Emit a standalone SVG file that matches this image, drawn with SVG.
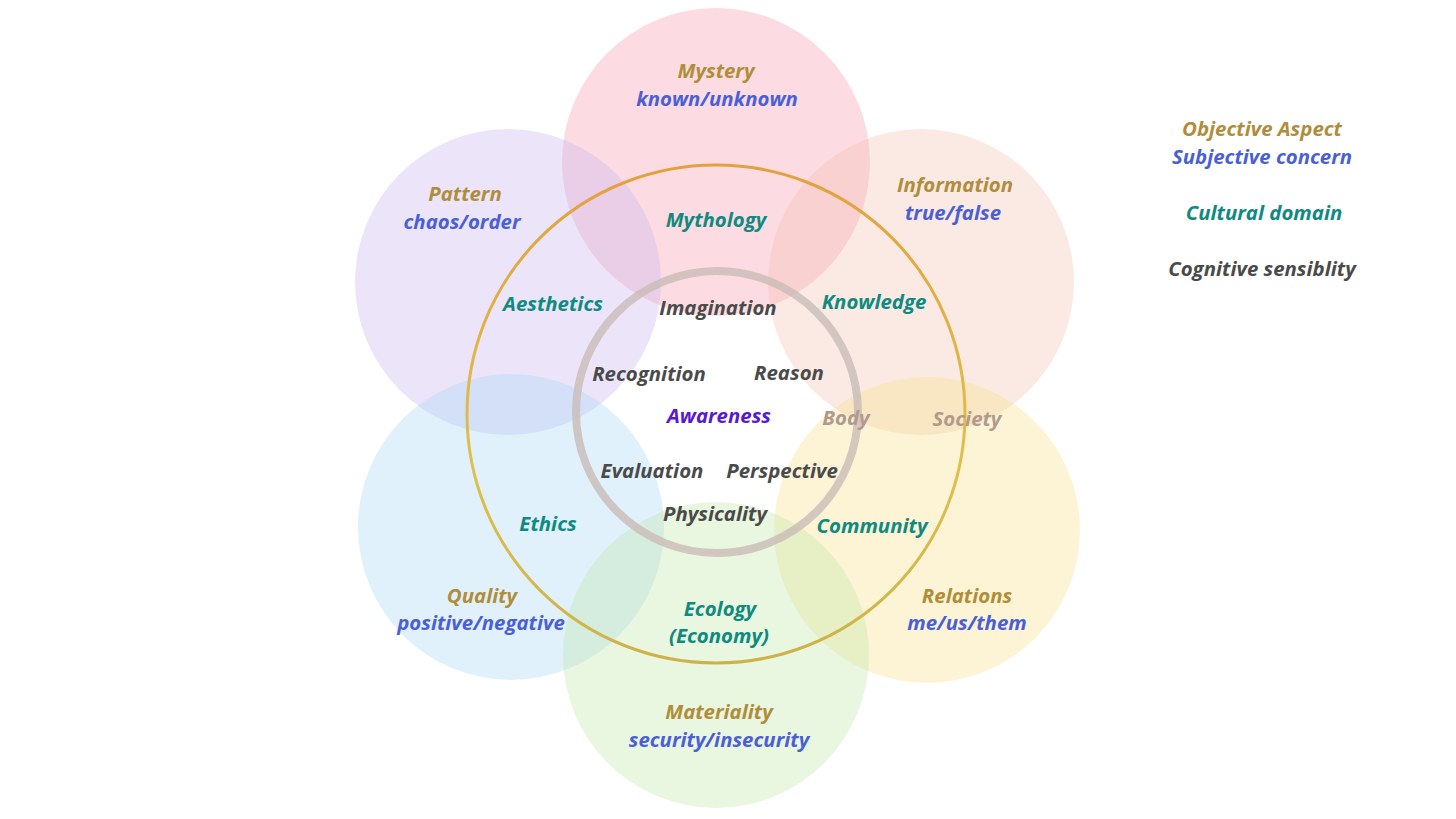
<svg xmlns="http://www.w3.org/2000/svg" width="1456" height="819" viewBox="0 0 1456 819">
<style>
text{font-family:"Open Sans","Noto Sans",sans-serif;font-weight:bold;font-style:italic;font-size:20.4px;text-anchor:middle}
.obj{fill:#b08d3a}
.sub{fill:#4a5fd6}
.cul{fill:#0e8a80}
.cog{fill:#4a4a4a}
.aw{fill:#5a18d0}
.bd{fill:#b09a8e}
.petal{stroke:none}
</style>
<defs>
<linearGradient id="gold" x1="0" y1="0" x2="0" y2="1">
<stop offset="0" stop-color="#e2a03e"/>
<stop offset="0.6" stop-color="#dfc04c"/>
<stop offset="1" stop-color="#cdb24a"/>
</linearGradient>
</defs>
<rect width="1456" height="819" fill="#ffffff"/>
<g id="petals">
<circle id="mystery" class="petal" cx="716" cy="162" r="154" fill="#f7a3b4" fill-opacity="0.38"/>
<circle id="pattern" class="petal" cx="508" cy="282" r="153" fill="#c8b4ef" fill-opacity="0.34"/>
<circle id="information" class="petal" cx="921" cy="282" r="153" fill="#f1b8a6" fill-opacity="0.3"/>
<circle id="quality" class="petal" cx="511" cy="527" r="153" fill="#a3d5f6" fill-opacity="0.32"/>
<circle id="relations" class="petal" cx="927" cy="530" r="153" fill="#f7dc7c" fill-opacity="0.32"/>
<circle id="materiality" class="petal" cx="716" cy="655" r="153" fill="#bfe6a4" fill-opacity="0.34"/>
</g>
<g id="rings">
<circle id="cultural-ring" cx="716" cy="414" r="249" fill="none" stroke="url(#gold)" stroke-width="3"/>
<circle id="cognitive-ring" cx="717" cy="412" r="141" fill="none" stroke="#c9bcb6" stroke-opacity="0.8" stroke-width="8"/>
</g>
<g id="labels-outer">
<text class="obj" x="716" y="78">Mystery</text>
<text class="sub" x="717" y="106">known/unknown</text>
<text class="obj" x="465" y="201">Pattern</text>
<text class="sub" x="462" y="229">chaos/order</text>
<text class="obj" x="955" y="192">Information</text>
<text class="sub" x="953" y="220">true/false</text>
<text class="obj" x="482" y="603">Quality</text>
<text class="sub" x="481" y="630">positive/negative</text>
<text class="obj" x="967" y="603">Relations</text>
<text class="sub" x="967" y="630">me/us/them</text>
<text class="obj" x="719" y="719">Materiality</text>
<text class="sub" x="719" y="747">security/insecurity</text>
</g>
<g id="labels-cultural">
<text class="cul" x="716" y="227">Mythology</text>
<text class="cul" x="553" y="311">Aesthetics</text>
<text class="cul" x="874" y="309">Knowledge</text>
<text class="cul" x="548" y="531">Ethics</text>
<text class="cul" x="872" y="533">Community</text>
<text class="cul" x="720" y="616">Ecology</text>
<text class="cul" x="719" y="643">(Economy)</text>
</g>
<g id="labels-cognitive">
<text class="cog" x="718" y="315">Imagination</text>
<text class="cog" x="649" y="381">Recognition</text>
<text class="cog" x="789" y="380">Reason</text>
<text class="aw" x="719" y="423">Awareness</text>
<text class="bd" x="846" y="425">Body</text>
<text class="bd" x="967" y="426">Society</text>
<text class="cog" x="652" y="478">Evaluation</text>
<text class="cog" x="782" y="478">Perspective</text>
<text class="cog" x="715" y="521">Physicality</text>
</g>
<g id="legend">
<text class="obj" x="1262" y="136">Objective Aspect</text>
<text class="sub" x="1262" y="164">Subjective concern</text>
<text class="cul" x="1264" y="220">Cultural domain</text>
<text class="cog" x="1262" y="276">Cognitive sensiblity</text>
</g>
</svg>
